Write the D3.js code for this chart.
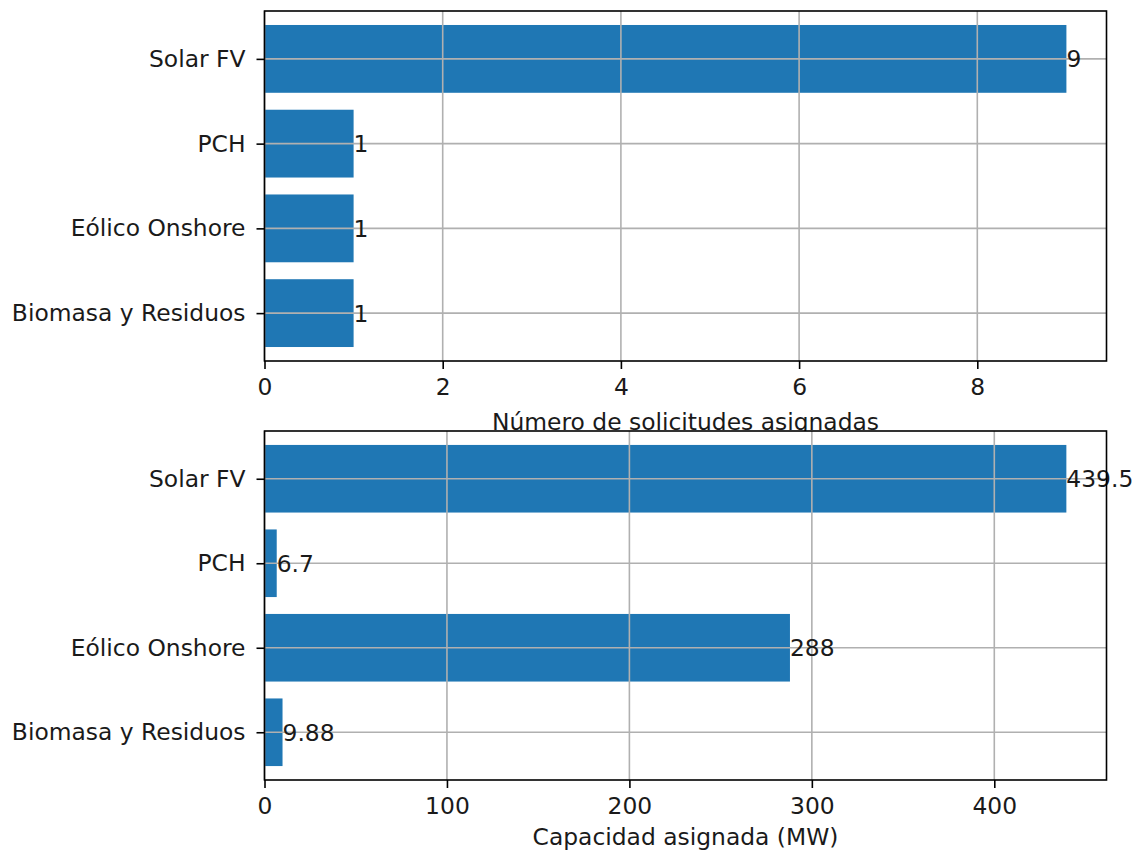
<!DOCTYPE html>
<html><head><meta charset="utf-8">
<script src="https://cdn.jsdelivr.net/npm/d3@7"></script>
<style>body{margin:0;background:#fff;} text{font-family:"DejaVu Sans",sans-serif;}</style>
</head><body>
<svg id="c" width="1135" height="852"></svg>
<script>
const categories = ["Biomasa y Residuos", "Eólico Onshore", "PCH", "Solar FV"];
const countValues = [1, 1, 1, 9];
const countLabels = ["1", "1", "1", "9"];
const capacityValues = [9.88, 288, 6.7, 439.5];
const capacityLabels = ["9.88", "288", "6.7", "439.5"];
const countTicks = [0, 2, 4, 6, 8];
const capacityTicks = [0, 100, 200, 300, 400];

const svg = d3.select("#c");
const left = 264.5, right = 1106.5;
const fs = 23.4;
const tc = "#1a1a1a";

function panel(top, bottom, values, labels, ticks, xmax, xlabel, labelY) {
  const g = svg.append("g");
  const x = d3.scaleLinear().domain([0, xmax]).range([left, right]);
  const y = d3.scaleLinear().domain([-0.565, 3.565]).range([bottom, top]);
  const bh = Math.abs(y(0.4) - y(-0.4));
  // axes background (covers overflowing text from the panel above)
  g.append("rect").attr("x", left).attr("y", top).attr("width", right - left).attr("height", bottom - top)
    .attr("fill", "#fff");
  // bars
  g.selectAll(".bar").data(values).enter().append("rect")
    .attr("x", x(0)).attr("y", (d, i) => y(i) - bh / 2)
    .attr("width", d => x(d) - x(0)).attr("height", bh)
    .attr("fill", "#1f77b4");
  // grid
  g.selectAll(".gx").data(ticks).enter().append("line")
    .attr("x1", d => x(d)).attr("x2", d => x(d)).attr("y1", top).attr("y2", bottom)
    .attr("stroke", "#b0b0b0").attr("stroke-width", 1.6);
  g.selectAll(".gy").data(categories).enter().append("line")
    .attr("x1", left).attr("x2", right).attr("y1", (d, i) => y(i)).attr("y2", (d, i) => y(i))
    .attr("stroke", "#b0b0b0").attr("stroke-width", 1.6);
  // bar labels
  g.selectAll(".bl").data(values).enter().append("text")
    .attr("x", d => x(d)).attr("y", (d, i) => y(i)).attr("dy", "0.36em")
    .attr("font-size", fs).attr("fill", tc).text((d, i) => labels[i]);
  // frame
  g.append("rect").attr("x", left).attr("y", top).attr("width", right - left).attr("height", bottom - top)
    .attr("fill", "none").attr("stroke", "#000").attr("stroke-width", 1.6);
  // x axis
  const xa = g.append("g").attr("transform", `translate(0,${bottom})`)
    .call(d3.axisBottom(x).tickValues(ticks).tickSize(8).tickPadding(9).tickFormat(d3.format("d")));
  xa.select(".domain").remove();
  xa.selectAll("text").attr("font-size", fs).attr("fill", tc).style("font-family", "DejaVu Sans");
  xa.selectAll("line").attr("stroke", "#000").attr("stroke-width", 1.6);
  // y axis
  const ya = g.append("g").attr("transform", `translate(${left},0)`)
    .call(d3.axisLeft(y).tickValues([0, 1, 2, 3]).tickSize(8).tickPadding(11).tickFormat(i => categories[i]));
  ya.select(".domain").remove();
  ya.selectAll("text").attr("font-size", fs).attr("fill", tc).style("font-family", "DejaVu Sans");
  ya.selectAll("line").attr("stroke", "#000").attr("stroke-width", 1.6);
  g.append("text").attr("x", (left + right) / 2).attr("y", labelY).attr("text-anchor", "middle")
    .attr("font-size", fs).attr("fill", tc).text(xlabel);
}

panel(11, 361, countValues, countLabels, countTicks, 9.45, "Número de solicitudes asignadas", 430);
panel(431, 780, capacityValues, capacityLabels, capacityTicks, 461.5, "Capacidad asignada (MW)", 845);
</script>
</body></html>
